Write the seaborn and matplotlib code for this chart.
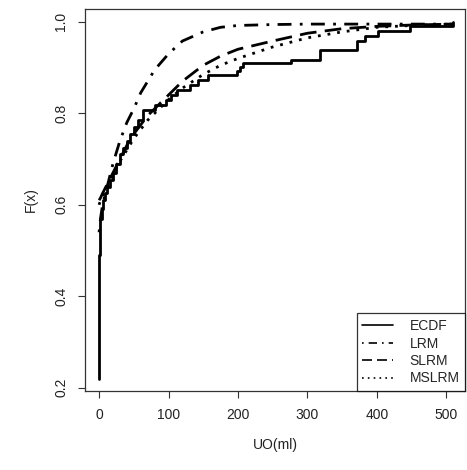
import numpy as np
import pandas as pd
import matplotlib
matplotlib.use("Agg")
import matplotlib.pyplot as plt
import seaborn as sns

# ---- data ----
ecdf_x = [0, 0.5, 1, 2, 4, 6, 9, 12, 16, 20, 25, 30, 35, 40, 45, 50, 56, 63, 81, 96,
          104, 112, 131, 143, 157, 199, 203, 207, 277, 318, 371, 383, 402, 448, 510]
ecdf_y = [0.22, 0.49, 0.545, 0.57, 0.59, 0.61, 0.625, 0.64, 0.655, 0.67, 0.69, 0.71,
          0.725, 0.74, 0.755, 0.77, 0.785, 0.808, 0.819, 0.83, 0.84, 0.851, 0.862,
          0.873, 0.884, 0.893, 0.902, 0.910, 0.917, 0.939, 0.957, 0.968, 0.979, 0.99, 1.0]

grid_x = [0, 2, 5, 10, 20, 30, 40, 50, 60, 70, 80, 100, 120, 150, 175, 200, 250, 300,
          350, 400, 450, 510]
lrm_y = [0.54, 0.57, 0.60, 0.63, 0.69, 0.74, 0.78, 0.81, 0.845, 0.87, 0.895, 0.93,
         0.958, 0.978, 0.988, 0.992, 0.994, 0.995, 0.995, 0.995, 0.995, 0.995]
slrm_y = [0.61, 0.615, 0.625, 0.64, 0.67, 0.70, 0.73, 0.755, 0.775, 0.795, 0.81, 0.84,
          0.87, 0.905, 0.925, 0.94, 0.958, 0.975, 0.985, 0.99, 0.993, 0.995]
mslrm_y = [0.60, 0.61, 0.62, 0.635, 0.665, 0.695, 0.72, 0.745, 0.765, 0.785, 0.80, 0.83,
           0.855, 0.885, 0.905, 0.92, 0.945, 0.965, 0.978, 0.988, 0.992, 0.995]

x_ticks = [0, 100, 200, 300, 400, 500]
y_ticks = [0.2, 0.4, 0.6, 0.8, 1.0]
legend_labels = ["ECDF", "LRM", "SLRM", "MSLRM"]

sns.set_style("white")
plt.rcParams['font.family'] = ['Liberation Sans', 'DejaVu Sans']

fig = plt.figure(figsize=(4.67, 4.70), dpi=100)
ax = fig.add_axes([85 / 467, 1 - 391 / 470, (465 - 85) / 467, (391 - 9) / 470])

lw = 2.0
ecdf_df = pd.DataFrame({"x": ecdf_x, "y": ecdf_y})
sns.lineplot(data=ecdf_df, x="x", y="y", ax=ax, color="black", lw=lw,
             drawstyle="steps-post", label=legend_labels[0], estimator=None, sort=False)

models = pd.DataFrame({"x": grid_x * 3,
                       "y": lrm_y + slrm_y + mslrm_y,
                       "model": ["LRM"] * len(grid_x) + ["SLRM"] * len(grid_x) + ["MSLRM"] * len(grid_x)})
dashes = {"LRM": (1, 3, 5, 3), "SLRM": (6, 3), "MSLRM": (1, 2.5)}
for name in ["LRM", "SLRM", "MSLRM"]:
    sub = models[models.model == name]
    sns.lineplot(data=sub, x="x", y="y", ax=ax, color="black", lw=lw,
                 label=name, estimator=None, sort=False, dashes=False)
    ax.lines[-1].set_dashes(dashes[name])

ax.set_xlim(-20.3, 527)
ax.set_ylim(0.193, 1.028)
ax.set_xticks(x_ticks)
ax.set_xticklabels([str(v) for v in x_ticks])
ax.set_yticks(y_ticks)
ax.set_yticklabels([f"{v:.1f}" for v in y_ticks], rotation=90, va="center")
ax.tick_params(axis="both", direction="out", length=5, width=0.8, color="#333333",
               labelsize=10, labelcolor="#222222", pad=7, bottom=True, left=True)
for s in ax.spines.values():
    s.set_color("#333333")
    s.set_linewidth(0.9)
ax.set_xlabel("UO(ml)", fontsize=10, color="#222222", labelpad=12)
ax.set_ylabel("F(x)", fontsize=10, color="#222222", labelpad=12)

leg = ax.legend(loc="lower right", frameon=True, fancybox=False, fontsize=10,
                handlelength=2.2, handletextpad=1.2, borderaxespad=0.0,
                labelspacing=0.25, borderpad=0.4)
leg.get_frame().set_edgecolor("black")
leg.get_frame().set_linewidth(0.9)
for h in leg.get_lines():
    h.set_linewidth(1.2)

fig.savefig("out.png", dpi=100)
